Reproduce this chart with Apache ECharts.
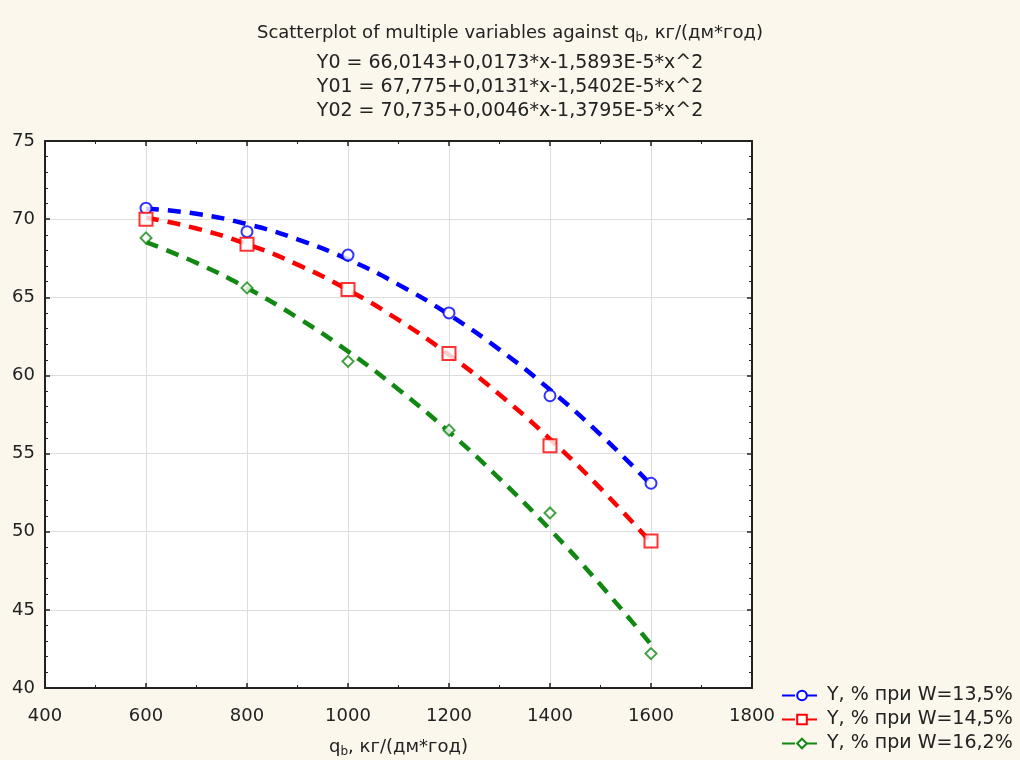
<!DOCTYPE html>
<html>
<head>
<meta charset="utf-8">
<script src="https://cdn.jsdelivr.net/npm/echarts@6/dist/echarts.min.js"></script>
<style>
    html, body { margin: 0; padding: 0; background: #fbf7ec; }
    #chart { width: 1020px; height: 760px; }
</style>
</head>
<body>
<div id="chart"></div>
<script>
// measured points
var xPoints = [600, 800, 1000, 1200, 1400, 1600];
var y135 = [70.7, 69.2, 67.7, 64.0, 58.7, 53.1];
var y145 = [70.0, 68.4, 65.5, 61.4, 55.5, 49.4];
var y162 = [68.8, 65.6, 60.9, 56.5, 51.2, 42.2];

// fitted curves
var xFit = [600, 700, 800, 900, 1000, 1100, 1200, 1300, 1400, 1500, 1600];
var fit135 = [70.67, 70.34, 69.68, 68.71, 67.42, 65.81, 63.89, 61.65, 59.08, 56.21, 53.01];
var fit145 = [70.09, 69.40, 68.40, 67.09, 65.47, 63.55, 61.32, 58.78, 55.93, 52.77, 49.31];
var fit162 = [68.53, 67.20, 65.59, 63.70, 61.54, 59.10, 56.39, 53.40, 50.14, 46.60, 42.78];

var seriesNames = ['Y, % при W=13,5%', 'Y, % при W=14,5%', 'Y, % при W=16,2%'];
var equations = [
    'Y0 = 66,0143+0,0173*x-1,5893E-5*x^2',
    'Y01 = 67,775+0,0131*x-1,5402E-5*x^2',
    'Y02 = 70,735+0,0046*x-1,3795E-5*x^2'
];

function pairs(xs, ys) {
    var data = [];
    for (var i = 0; i < xs.length; i++) {
        data.push([xs[i], ys[i]]);
    }
    return data;
}

var font = 'DejaVu Sans, sans-serif';
var txt = '#222';

var colors = ['#0000ff', '#ff0000', '#118811'];
var symbols = ['emptyCircle', 'emptyRect', 'emptyDiamond'];
var symSizes = [11, 13, 11];
var fits = [fit135, fit145, fit162];
var pts = [y135, y145, y162];

var series = [];
for (var k = 0; k < 3; k++) {
    series.push({
        name: seriesNames[k],
        type: 'line',
        smooth: true,
        showSymbol: false,
        symbol: symbols[k],
        symbolSize: symSizes[k] - 2,
        lineStyle: { color: colors[k], width: 4.5, type: [13, 9] },
        itemStyle: { color: colors[k], borderWidth: 1.5 },
        data: pairs(xFit, fits[k]),
        z: 2
    });
    series.push({
        name: seriesNames[k] + ' pts',
        type: 'scatter',
        symbol: symbols[k],
        symbolSize: symSizes[k],
        itemStyle: { color: colors[k], borderWidth: 1.5 },
        data: pairs(xPoints, pts[k]),
        z: 3
    });
}

var myChart = echarts.init(document.getElementById('chart'));

var subRich = {
    q: { fontFamily: font, fontSize: 18, color: txt },
    b: { fontFamily: font, fontSize: 12, color: txt, verticalAlign: 'bottom', padding: [9, 0, 0, 0] }
};

function mkAxis(extra, minorSplit) {
    var base = {
        type: 'value',
        axisLine: { show: true, lineStyle: { color: '#222', width: 2 } },
        axisTick: { show: true, inside: true, length: 5, lineStyle: { color: '#222', width: 1.5 } },
        minorTick: { show: true, splitNumber: minorSplit, length: 3, lineStyle: { color: '#222', width: 1 } }
    };
    return Object.assign(base, extra);
}

var titles = [{
    text: '{q|Scatterplot of multiple variables against q}{b|b}{q|, кг/(дм*год)}',
    left: 'center',
    top: 18,
    textStyle: { fontWeight: 'normal', rich: subRich }
}];
for (var e = 0; e < equations.length; e++) {
    titles.push({
        text: equations[e],
        left: 'center',
        top: 49 + e * 24,
        textStyle: { fontFamily: font, fontSize: 19, fontWeight: 'normal', color: txt }
    });
}

var option = {
    backgroundColor: '#fbf7ec',
    animation: false,
    title: titles,
    legend: {
        orient: 'vertical',
        left: 776,
        top: 681,
        itemWidth: 40,
        itemHeight: 12,
        itemGap: 5,
        data: seriesNames,
        textStyle: { fontFamily: font, fontSize: 19, color: txt }
    },
    grid: {
        left: 45,
        right: 268,
        top: 141,
        bottom: 72,
        outerBoundsMode: 'none',
        show: true,
        backgroundColor: '#ffffff',
        borderWidth: 0
    },
    xAxis: [mkAxis({
        min: 400,
        max: 1800,
        interval: 200,
        splitLine: { show: true, lineStyle: { color: '#dddddd', width: 1 } },
        axisLabel: {
            fontFamily: font, fontSize: 18, color: txt, margin: 19,
            formatter: function (v) { return String(v); }
        },
        name: '{q|q}{b|b}{q|, кг/(дм*год)}',
        nameLocation: 'middle',
        nameGap: 49,
        nameTextStyle: { rich: subRich }
    }, 2), mkAxis({
        position: 'top',
        min: 400,
        max: 1800,
        interval: 200,
        splitLine: { show: false },
        axisLabel: { show: false }
    }, 2)],
    yAxis: [mkAxis({
        min: 40,
        max: 75,
        interval: 5,
        splitLine: { show: true, lineStyle: { color: '#dddddd', width: 1 } },
        axisLabel: { fontFamily: font, fontSize: 18, color: txt, margin: 10 }
    }, 5), mkAxis({
        position: 'right',
        min: 40,
        max: 75,
        interval: 5,
        splitLine: { show: false },
        axisLabel: { show: false }
    }, 5)],
    series: series
};

myChart.setOption(option);
</script>
</body>
</html>
